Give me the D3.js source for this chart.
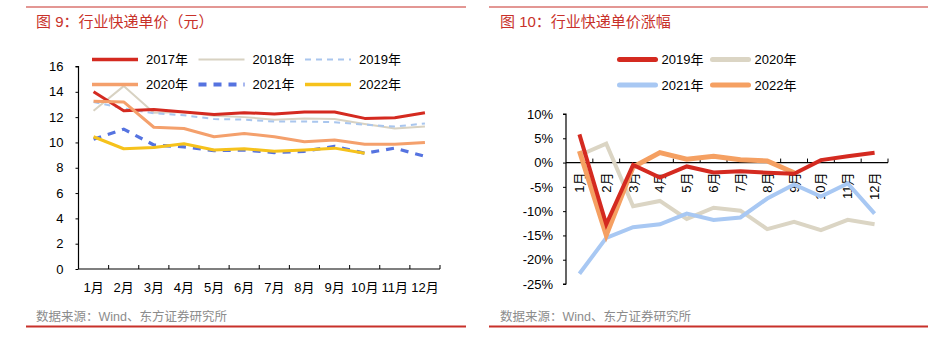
<!DOCTYPE html>
<html><head><meta charset="utf-8">
<script src="https://cdn.jsdelivr.net/npm/d3@7/dist/d3.min.js"></script>
<style>
body{margin:0;background:#fff;}
svg text{font-family:"Liberation Sans",Arial,"Noto Sans CJK SC",sans-serif;}
</style></head>
<body><svg id="c" width="950" height="340"></svg>
<script>
const months = ["1月","2月","3月","4月","5月","6月","7月","8月","9月","10月","11月","12月"];
const leftTicks = [0,2,4,6,8,10,12,14,16];
const rightTicks = [-25,-20,-15,-10,-5,0,5,10];

const p2017 = [14.0,12.5,12.6,12.4,12.2,12.35,12.25,12.4,12.4,11.9,11.95,12.35];
const p2018 = [12.5,14.45,12.35,12.4,12.1,12.0,11.8,11.9,11.85,11.45,11.1,11.25];
const p2019 = [13.2,12.7,12.3,12.15,11.85,11.8,11.65,11.65,11.6,11.4,11.25,11.5];
const p2020 = [13.25,13.2,11.2,11.1,10.45,10.7,10.45,10.05,10.2,9.85,9.85,10.0];
const p2021 = [10.25,11.05,9.8,9.65,9.35,9.4,9.2,9.3,9.7,9.15,9.55,8.9];
const p2022 = [10.45,9.5,9.6,9.9,9.4,9.5,9.3,9.4,9.55,9.15];

const g2019 = [5.8,-12.7,-0.5,-3.1,-0.8,-2.05,-1.8,-2.1,-2.3,0.5,1.3,2.0];
const g2020 = [1.5,3.9,-9.0,-7.9,-11.6,-9.3,-9.9,-13.7,-12.2,-13.9,-11.8,-12.7];
const g2021 = [-22.9,-15.5,-13.3,-12.7,-10.5,-11.8,-11.3,-7.4,-4.5,-7.0,-4.3,-10.5];
const g2022 = [2.4,-14.9,-0.9,2.05,0.7,1.3,0.6,0.35,-2.1];

const svg = d3.select("#c");
const RED = "#c8312a";

function frame(x0, x1, title, tx){
  svg.append("line").attr("x1",x0).attr("x2",x1).attr("y1",7).attr("y2",7).attr("stroke",RED).attr("stroke-width",1.2);
  svg.append("line").attr("x1",x0).attr("x2",x1).attr("y1",326.5).attr("y2",326.5).attr("stroke",RED).attr("stroke-width",2);
  svg.append("text").attr("x",tx).attr("y",27).attr("fill",RED).attr("font-size",15).text(title);
  svg.append("text").attr("x",tx).attr("y",321).attr("fill","#8c8c8c").attr("font-size",12.5).text("数据来源：Wind、东方证券研究所");
}
frame(26,466,"图 9：行业快递单价（元）",36);
frame(489,928,"图 10：行业快递单价涨幅",500);

// ---------- Left chart ----------
const xL = d3.scaleBand().domain(months).range([78.5,440]);
const yL = d3.scaleLinear().domain([0,16]).range([269,66.5]);
const gL = svg.append("g");
const yAxL = gL.append("g").attr("transform","translate(78.5,0)")
  .call(d3.axisLeft(yL).tickValues(leftTicks).tickSize(3).tickPadding(12));
const xAxL = gL.append("g").attr("transform","translate(0,269)")
  .call(d3.axisBottom(xL).tickSize(0).tickPadding(14));
xAxL.selectAll(".bnd").data(months).enter().append("line")
  .attr("x1",d=>xL(d)+xL.bandwidth()).attr("x2",d=>xL(d)+xL.bandwidth())
  .attr("y1",0).attr("y2",-4).attr("stroke","#000");
[yAxL,xAxL].forEach(a=>{
  a.select(".domain").attr("stroke","#000").attr("stroke-width",1.2);
  a.selectAll(".tick line").attr("stroke","#000");
  a.selectAll("text").attr("font-size",13).attr("fill","#000").attr("font-family",'"Liberation Sans",Arial,"Noto Sans CJK SC",sans-serif');
});
yAxL.select(".domain").attr("d","M-3,66.5H0V269");
xAxL.select(".domain").attr("d","M78.5,0H440");

const seriesL = [
  {name:"2018年", data:p2018, color:"#d8d2c2", w:2, dash:null},
  {name:"2019年", data:p2019, color:"#a9c6ee", w:2, dash:"6,5"},
  {name:"2017年", data:p2017, color:"#d42a20", w:3, dash:null},
  {name:"2020年", data:p2020, color:"#f4a06c", w:3, dash:null},
  {name:"2021年", data:p2021, color:"#5573e0", w:3.2, dash:"8,7"},
  {name:"2022年", data:p2022, color:"#f6c21c", w:3, dash:null},
];
const lineL = d3.line().x((d,i)=>xL(months[i])+xL.bandwidth()/2).y(d=>yL(d));
seriesL.forEach(s=>{
  gL.append("path").attr("d",lineL(s.data)).attr("fill","none").attr("stroke",s.color)
    .attr("stroke-width",s.w).attr("stroke-dasharray",s.dash).attr("stroke-linejoin","round");
});
const legL = [["2017年",0,0],["2018年",1,0],["2019年",2,0],["2020年",0,1],["2021年",1,1],["2022年",2,1]];
legL.forEach(([n,c,r])=>{
  const s = seriesL.find(q=>q.name===n);
  const x0 = 92 + c*106.5, y0 = 59.5 + r*25;
  svg.append("line").attr("x1",x0).attr("x2",x0+46).attr("y1",y0).attr("y2",y0)
    .attr("stroke",s.color).attr("stroke-width",s.name==="2018年"||s.name==="2019年"?2:(s.name==="2021年"?4:3.5))
    .attr("stroke-dasharray",s.name==="2019年"?"6,5":(s.name==="2021年"?"8,7":null));
  svg.append("text").attr("x",x0+54).attr("y",y0+4.5).attr("font-size",13).attr("fill","#000").text(n);
});

// ---------- Right chart ----------
const xR = d3.scaleBand().domain(months).range([566,888]);
const yR = d3.scaleLinear().domain([-25,10]).range([284,114]);
const gR = svg.append("g");
const yAxR = gR.append("g").attr("transform","translate(566,0)")
  .call(d3.axisLeft(yR).tickValues(rightTicks).tickSize(3).tickPadding(10).tickFormat(d=>d+"%"));
const xAxR = gR.append("g").attr("transform",`translate(0,${yR(0)})`)
  .call(d3.axisBottom(xR).tickSize(0).tickPadding(0));
xAxR.selectAll(".bnd").data(months).enter().append("line")
  .attr("x1",d=>xR(d)+xR.bandwidth()).attr("x2",d=>xR(d)+xR.bandwidth())
  .attr("y1",0).attr("y2",-4).attr("stroke","#000");
[yAxR,xAxR].forEach(a=>{
  a.select(".domain").attr("stroke","#000").attr("stroke-width",1.2);
  a.selectAll(".tick line").attr("stroke","#000");
  a.selectAll("text").attr("font-size",13).attr("fill","#000").attr("font-family",'"Liberation Sans",Arial,"Noto Sans CJK SC",sans-serif');
});
yAxR.select(".domain").attr("d","M-3,114H0V284H-3");
xAxR.select(".domain").attr("d","M566,0H888");
xAxR.selectAll(".tick text")
  .attr("transform","translate(0,10) rotate(-90)")
  .attr("text-anchor","end").attr("dy","0.35em").attr("y",0).attr("x",0);

const seriesR = [
  {name:"2020年", data:g2020, color:"#dbd5c4"},
  {name:"2021年", data:g2021, color:"#a8c8f3"},
  {name:"2022年", data:g2022, color:"#f5a062"},
  {name:"2019年", data:g2019, color:"#d42a20"},
];
const lineR = d3.line().x((d,i)=>xR(months[i])+xR.bandwidth()/2).y(d=>yR(d));
seriesR.forEach(s=>{
  gR.append("path").attr("d",lineR(s.data)).attr("fill","none").attr("stroke",s.color)
    .attr("stroke-width",s.name==="2022年"?5:4).attr("stroke-linejoin","miter");
});
const legR = [["2019年",0,0],["2020年",1,0],["2021年",0,1],["2022年",1,1]];
legR.forEach(([n,c,r])=>{
  const s = seriesR.find(q=>q.name===n);
  const x0 = 619.5 + c*93, y0 = 59.5 + r*25.5;
  svg.append("line").attr("x1",x0).attr("x2",x0+36).attr("y1",y0).attr("y2",y0)
    .attr("stroke",s.color).attr("stroke-width",5).attr("stroke-linecap","round");
  svg.append("text").attr("x",x0+42).attr("y",y0+4.5).attr("font-size",13).attr("fill","#000").text(n);
});
</script></body></html>
